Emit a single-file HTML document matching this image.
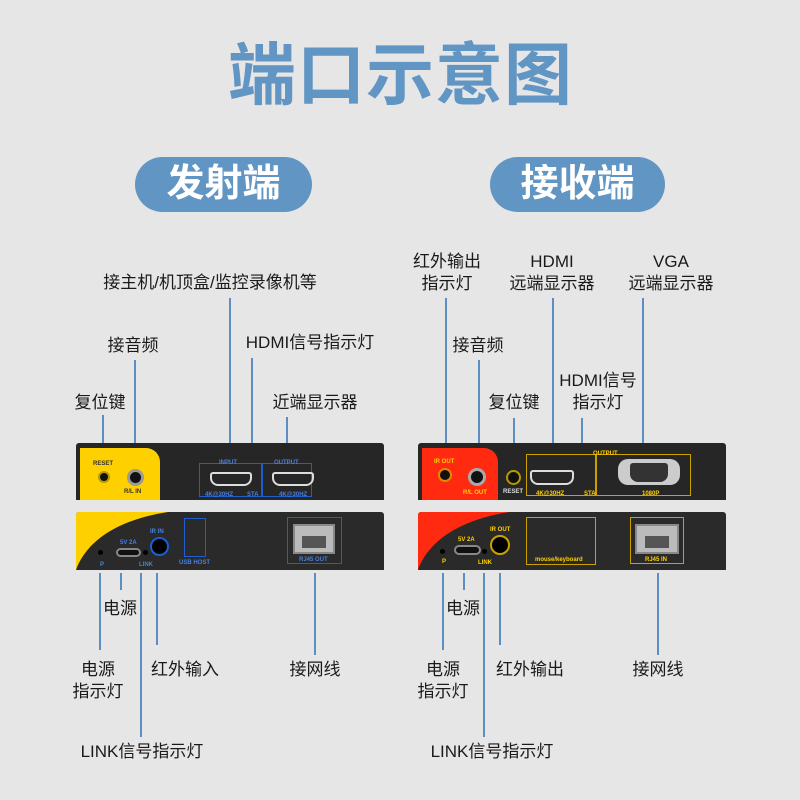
<!DOCTYPE html>
<html><head><meta charset="utf-8"><style>
*{margin:0;padding:0;box-sizing:border-box}
body{width:800px;height:800px;background:#e6e6e6;position:relative;overflow:hidden;font-family:"Liberation Sans","Noto Sans CJK SC",sans-serif;color:#1a1a1a}
.a{position:absolute}
.t{position:absolute;font-size:17px;white-space:nowrap;text-align:center;line-height:22px;transform:translateX(-50%)}
.pill{position:absolute;background:#6195c3;color:#fff;font-size:38px;font-weight:bold;border-radius:28px;text-align:center;line-height:55px;height:55px}
.dev{position:absolute;background:#262626;border-radius:3px 3px 0 0;overflow:hidden}
.s{position:absolute;color:#fff;font-size:6px;font-weight:bold;white-space:nowrap}
.bx{position:absolute;border:1.5px solid}
.jack{position:absolute;border-radius:50%;background:#111}
</style></head><body>
<div class="a" style="left:228px;top:36px;font-size:68px;font-weight:bold;color:#6195c3;letter-spacing:1px;line-height:80px">端口示意图</div>
<div class="pill" style="left:135px;top:157px;width:177px">发射端</div>
<div class="pill" style="left:490px;top:157px;width:175px">接收端</div>

<svg class="a" style="left:0;top:0" width="800" height="800" stroke="#5b8fc4" stroke-width="2" fill="none">
<path d="M230 298V458M135 360V462M252 358V468M103 415V455M287 417V455"/>
<path d="M100 573V650M121 573V590M141 573V737M157 573V645M315 573V655"/>
<path d="M446 298V455M479 360V462M553 298V465M643 298V445M514 418V462M582 418V476"/>
<path d="M443 573V650M464 573V590M484 573V737M500 573V645M658 573V655"/>
</svg>

<div class="t" style="left:210px;top:272px">接主机/机顶盒/监控录像机等</div>
<div class="t" style="left:133px;top:335px">接音频</div>
<div class="t" style="left:310px;top:332px">HDMI信号指示灯</div>
<div class="t" style="left:100px;top:392px">复位键</div>
<div class="t" style="left:315px;top:392px">近端显示器</div>
<div class="t" style="left:120px;top:598px">电源</div>
<div class="t" style="left:98px;top:659px">电源<br>指示灯</div>
<div class="t" style="left:185px;top:659px">红外输入</div>
<div class="t" style="left:142px;top:741px">LINK信号指示灯</div>
<div class="t" style="left:315px;top:659px">接网线</div>

<div class="t" style="left:447px;top:251px">红外输出<br>指示灯</div>
<div class="t" style="left:478px;top:335px">接音频</div>
<div class="t" style="left:552px;top:251px">HDMI<br>远端显示器</div>
<div class="t" style="left:671px;top:251px">VGA<br>远端显示器</div>
<div class="t" style="left:514px;top:392px">复位键</div>
<div class="t" style="left:598px;top:370px">HDMI信号<br>指示灯</div>
<div class="t" style="left:463px;top:598px">电源</div>
<div class="t" style="left:443px;top:659px">电源<br>指示灯</div>
<div class="t" style="left:530px;top:659px">红外输出</div>
<div class="t" style="left:492px;top:741px">LINK信号指示灯</div>
<div class="t" style="left:658px;top:659px">接网线</div>

<!-- left top -->
<div class="dev" style="left:76px;top:443px;width:308px;height:57px">
 <div class="a" style="left:4px;top:5px;width:80px;height:52px;background:#ffd000;border-radius:0 14px 0 0"></div>
 <div class="s" style="left:17px;top:18px;color:#333">RESET</div>
 <div class="jack" style="left:22px;top:28px;width:12px;height:12px;border:2px solid #b89a00"></div>
 <div class="jack" style="left:51px;top:26px;width:17px;height:17px;border:3px solid #999"></div>
 <div class="s" style="left:48px;top:46px;color:#333">R/L IN</div>
 <div class="bx" style="left:123px;top:20px;width:63px;height:34px;border-color:#1d5fd0"></div>
 <div class="bx" style="left:186px;top:20px;width:50px;height:34px;border-color:#1d5fd0"></div>
 <div class="a" style="left:134px;top:29px;width:42px;height:14px;border:2px solid #ddd;border-radius:3px 3px 8px 8px"></div>
 <div class="a" style="left:196px;top:29px;width:42px;height:14px;border:2px solid #ddd;border-radius:3px 3px 8px 8px"></div>
 <div class="s" style="left:143px;top:17px;color:#4a7fe0">INPUT</div>
 <div class="s" style="left:198px;top:17px;color:#4a7fe0">OUTPUT</div>
 <div class="s" style="left:129px;top:49px;color:#4a7fe0">4K@30HZ</div>
 <div class="s" style="left:171px;top:49px;color:#4a7fe0">STA</div>
 <div class="s" style="left:203px;top:49px;color:#4a7fe0">4K@30HZ</div>
</div>
<!-- left bottom -->
<div class="dev" style="left:76px;top:512px;width:308px;height:58px;background:#2a2a2a">
 <svg class="a" style="left:0;top:0" width="100" height="58"><path d="M0 0H92C40 8 10 30 0 58Z" fill="#ffd000"/></svg>
 <div class="s" style="left:44px;top:28px;color:#4a7fe0">5V 2A</div>
 <div class="a" style="left:40px;top:36px;width:25px;height:9px;border:2px solid #888;border-radius:5px;background:#111"></div>
 <div class="jack" style="left:22px;top:38px;width:5px;height:5px;background:#000"></div>
 <div class="s" style="left:24px;top:50px;color:#4a7fe0">P</div>
 <div class="jack" style="left:67px;top:38px;width:5px;height:5px;background:#000"></div>
 <div class="s" style="left:63px;top:50px;color:#4a7fe0">LINK</div>
 <div class="s" style="left:74px;top:17px;color:#4a7fe0">IR IN</div>
 <div class="jack" style="left:74px;top:25px;width:19px;height:19px;border:2px solid #1d5fd0;background:#000"></div>
 <div class="bx" style="left:108px;top:6px;width:22px;height:39px;border-color:#1d5fd0"></div>
 <div class="s" style="left:103px;top:48px;color:#4a7fe0">USB HOST</div>
 <div class="bx" style="left:211px;top:5px;width:55px;height:47px;border-color:#1d5fd0"></div>
 <div class="a" style="left:217px;top:12px;width:42px;height:30px;background:#bbb;border:2px solid #888"></div>
 <div class="a" style="left:226px;top:24px;width:24px;height:12px;background:#555"></div>
 <div class="s" style="left:223px;top:45px;color:#4a7fe0">RJ45 OUT</div>
</div>
<!-- right top -->
<div class="dev" style="left:418px;top:443px;width:308px;height:57px">
 <div class="a" style="left:4px;top:5px;width:76px;height:52px;background:#ff2a10;border-radius:0 14px 0 0"></div>
 <div class="s" style="left:16px;top:16px;color:#ffd000">IR OUT</div>
 <div class="jack" style="left:20px;top:25px;width:14px;height:14px;border:2px solid #e08a00"></div>
 <div class="jack" style="left:50px;top:25px;width:18px;height:18px;border:3px solid #aaa"></div>
 <div class="s" style="left:45px;top:47px;color:#ffd000">R/L OUT</div>
 <div class="jack" style="left:88px;top:27px;width:15px;height:15px;border:2px solid #b89a00"></div>
 <div class="s" style="left:85px;top:46px;color:#ddd">RESET</div>
 <div class="bx" style="left:108px;top:11px;width:70px;height:42px;border-color:#c9a200"></div>
 <div class="bx" style="left:178px;top:11px;width:95px;height:42px;border-color:#c9a200"></div>
 <div class="a" style="left:112px;top:27px;width:44px;height:15px;border:2px solid #ddd;border-radius:3px 3px 8px 8px"></div>
 <div class="a" style="left:200px;top:16px;width:62px;height:26px;background:#ccc;border-radius:10px"></div>
 <div class="a" style="left:212px;top:20px;width:38px;height:19px;background:#333;border-radius:3px 3px 8px 8px"></div>
 <div class="s" style="left:175px;top:8px;color:#ffd000">OUTPUT</div>
 <div class="s" style="left:118px;top:48px;color:#ffd000">4K@30HZ</div>
 <div class="s" style="left:166px;top:48px;color:#ffd000">STA</div>
 <div class="s" style="left:224px;top:48px;color:#ffd000">1080P</div>
</div>
<!-- right bottom -->
<div class="dev" style="left:418px;top:512px;width:308px;height:58px;background:#2a2a2a">
 <svg class="a" style="left:0;top:0" width="100" height="58"><path d="M0 0H92C40 8 10 30 0 58Z" fill="#ff2a10"/></svg>
 <div class="s" style="left:40px;top:25px;color:#ffd000">5V 2A</div>
 <div class="a" style="left:36px;top:33px;width:27px;height:10px;border:2px solid #888;border-radius:5px;background:#111"></div>
 <div class="jack" style="left:22px;top:37px;width:5px;height:5px;background:#000"></div>
 <div class="s" style="left:24px;top:47px;color:#ffd000">P</div>
 <div class="jack" style="left:64px;top:37px;width:5px;height:5px;background:#000"></div>
 <div class="s" style="left:60px;top:48px;color:#ffd000">LINK</div>
 <div class="s" style="left:72px;top:15px;color:#ffd000">IR OUT</div>
 <div class="jack" style="left:72px;top:23px;width:20px;height:20px;border:2px solid #c9a200;background:#000"></div>
 <div class="bx" style="left:108px;top:5px;width:70px;height:48px;border-color:#c9a200"></div>
 <div class="s" style="left:117px;top:45px;color:#ffd000">mouse/keyboard</div>
 <div class="bx" style="left:212px;top:5px;width:54px;height:47px;border-color:#c9a200"></div>
 <div class="a" style="left:217px;top:12px;width:44px;height:30px;background:#bbb;border:2px solid #888"></div>
 <div class="a" style="left:227px;top:24px;width:24px;height:12px;background:#555"></div>
 <div class="s" style="left:227px;top:45px;color:#ffd000">RJ45 IN</div>
</div>
</body></html>
